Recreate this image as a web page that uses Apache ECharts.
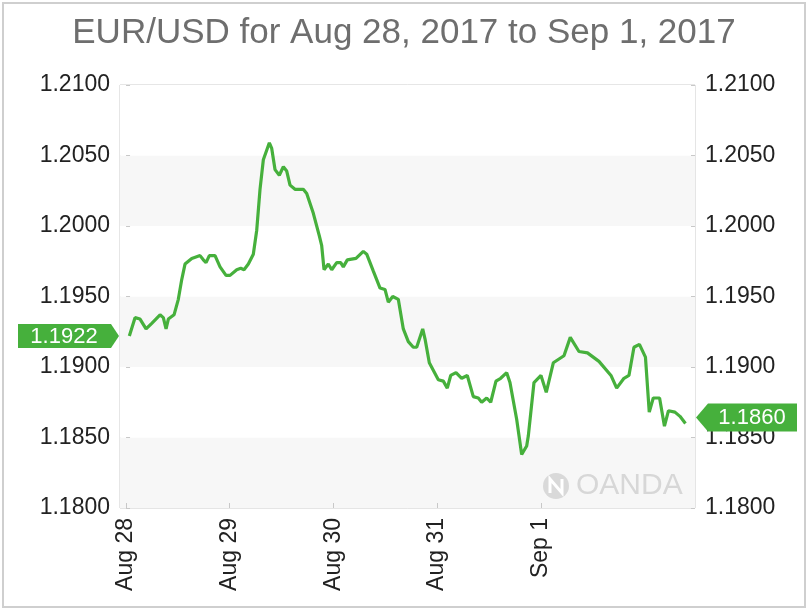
<!DOCTYPE html>
<html>
<head>
<meta charset="utf-8">
<script src="https://cdn.jsdelivr.net/npm/echarts@6/dist/echarts.min.js"></script>
<style>
html,body{margin:0;padding:0;background:#fff;}
#chart{width:808px;height:610px;}
</style>
</head>
<body>
<div id="chart"></div>
<script>
// Hours since Aug 28, 2017 00:00
const hours = [0.76,2.08,3.24,4.63,5.95,7.87,8.63,9.26,9.79,11.11,12.10,12.89,13.65,15.21,17.13,17.89,18.52,19.28,20.60,21.76,23.14,24.07,25.62,26.55,27.31,28.31,29.46,30.25,31.01,31.78,33.17,33.72,34.48,35.48,36.41,37.19,37.96,39.11,41.03,41.82,43.35,44.74,45.29,45.83,46.82,47.61,48.76,49.69,50.29,51.22,53.23,54.92,55.71,57.24,58.02,58.79,59.94,60.71,61.73,63.02,64.18,65.34,66.49,67.28,68.67,69.20,70.20,72.28,73.44,74.36,75.15,76.38,77.69,78.99,80.38,81.54,82.32,83.48,84.41,85.63,86.72,88.11,88.87,90.42,91.58,92.74,93.11,94.43,96.05,97.27,98.90,101.37,102.83,104.84,106.81,109.47,112.25,113.57,115.26,116.41,117.57,118.84,120.23,121.11,122.04,123.50,124.63,125.56,127.06,128.22,129.49];
const rates = [1.1922,1.1935,1.1934,1.1927,1.1931,1.1937,1.1935,1.1927,1.1934,1.1937,1.1948,1.1962,1.1973,1.1977,1.1979,1.1976,1.1974,1.1979,1.1979,1.1971,1.1965,1.1965,1.1969,1.1970,1.1969,1.1973,1.1980,1.1997,1.2026,1.2047,1.2059,1.2055,1.2040,1.2036,1.2042,1.2039,1.2029,1.2026,1.2026,1.2023,1.2009,1.1993,1.1986,1.1969,1.1973,1.1969,1.1974,1.1974,1.1971,1.1976,1.1977,1.1982,1.1980,1.1968,1.1962,1.1956,1.1955,1.1946,1.1950,1.1948,1.1927,1.1918,1.1914,1.1914,1.1927,1.1920,1.1903,1.1891,1.1890,1.1885,1.1894,1.1896,1.1892,1.1894,1.1879,1.1878,1.1875,1.1878,1.1875,1.1890,1.1892,1.1896,1.1889,1.1863,1.1838,1.1844,1.1851,1.1889,1.1894,1.1882,1.1903,1.1908,1.1921,1.1911,1.1910,1.1904,1.1894,1.1885,1.1892,1.1894,1.1914,1.1916,1.1907,1.1868,1.1878,1.1878,1.1858,1.1869,1.1868,1.1865,1.1860];
const dayTicks = [0, 24, 48, 72, 96];
const dayLabels = ['Aug 28', 'Aug 29', 'Aug 30', 'Aug 31', 'Sep 1'];
const yMin = 1.1800, yMax = 1.2100, yStep = 0.0050;
const xMin = -1.4, xMax = 131.7;
const titleText = 'EUR/USD for Aug 28, 2017 to Sep 1, 2017';

const FONT = '"Liberation Sans", Arial, Helvetica, sans-serif';
const GREEN = '#46b03c';

const chart = echarts.init(document.getElementById('chart'));
const yAxisCommon = {
  type: 'value', min: yMin, max: yMax, interval: yStep,
  axisLine: { show: false },
  axisTick: { show: true, inside: true, length: 4, lineStyle: { color: '#c8c8c8' } },
  splitLine: { show: false },
  axisLabel: { color: '#222', fontSize: 23, fontFamily: FONT, margin: 10, formatter: v => v.toFixed(4) }
};
chart.setOption({
  animation: false,
  backgroundColor: '#fff',
  title: { text: titleText, left: 'center', top: 11,
    textStyle: { color: '#6e6e6e', fontSize: 35, fontWeight: 'normal', fontFamily: FONT } },
  grid: { left: 120, right: 113, top: 85, bottom: 102, show: true, borderColor: '#cccccc', borderWidth: 1, backgroundColor: 'transparent' },
  xAxis: {
    type: 'value', min: xMin, max: xMax,
    axisLine: { show: false },
    splitLine: { show: false },
    axisTick: { show: true, inside: true, length: 5, customValues: dayTicks, lineStyle: { color: '#c8c8c8' } },
    axisLabel: { customValues: dayTicks, rotate: 90, margin: 10, color: '#222', fontSize: 23, fontFamily: FONT,
      formatter: v => dayLabels[dayTicks.indexOf(v)] || '' }
  },
  yAxis: [
    Object.assign({}, yAxisCommon, { position: 'left',
      splitArea: { show: true, areaStyle: { color: ['#f7f7f7', '#ffffff'] } } }),
    Object.assign({}, yAxisCommon, { position: 'right', splitArea: { show: false } })
  ],
  series: [{
    type: 'line', xAxisIndex: 0, yAxisIndex: 0,
    data: hours.map((h, i) => [h, rates[i]]),
    showSymbol: false, symbol: 'none',
    lineStyle: { color: GREEN, width: 3.2 },
    z: 5
  }]
});

function tag(points, text, cx, cy) {
  return [
    { type: 'polygon', shape: { points }, style: { fill: GREEN }, z: 100 },
    { type: 'text', x: cx, y: cy, z: 101,
      style: { text, fill: '#fff', font: '22px ' + FONT, align: 'center', verticalAlign: 'middle' } }
  ];
}
const gl = chart.convertToPixel({ gridIndex: 0 }, [xMin, yMin]);
const gr = chart.convertToPixel({ gridIndex: 0 }, [xMax, yMax]);
const yFirst = chart.convertToPixel({ yAxisIndex: 0 }, rates[0]);
const yLast = chart.convertToPixel({ yAxisIndex: 0 }, rates[rates.length - 1]) - 6;
const h = 12;
const L = gl[0], R = gr[0];
const leftTag = tag([[L - 102, yFirst - h], [L - 9, yFirst - h], [L - 1, yFirst], [L - 9, yFirst + h], [L - 102, yFirst + h]],
  rates[0].toFixed(4), L - 56, yFirst + 1);
const rightTag = tag([[R + 1, yLast], [R + 13, yLast - h - 2], [R + 102, yLast - h - 2], [R + 102, yLast + h + 2], [R + 13, yLast + h + 2]],
  rates[rates.length - 1].toFixed(4), R + 57, yLast + 1);

// OANDA watermark
const wm = [
  { type: 'circle', shape: { cx: R - 139, cy: gl[1] - 22, r: 13 }, style: { fill: '#d9d9d9' }, z: 3 },
  { type: 'polyline', shape: { points: [[R - 145, gl[1] - 15], [R - 145, gl[1] - 29], [R - 133, gl[1] - 15], [R - 133, gl[1] - 29]] },
    style: { stroke: '#fff', lineWidth: 3, fill: null }, z: 4 },
  { type: 'text', x: R - 119, y: gl[1] - 22, z: 3,
    style: { text: 'OANDA', fill: '#d7d7d7', font: '30px ' + FONT, verticalAlign: 'middle', align: 'left' } }
];
// outer frame
const frame = [{ type: 'rect', shape: { x: 3, y: 3, width: 802, height: 604 }, style: { fill: null, stroke: '#cfcfcf', lineWidth: 2 }, z: 0 }];

chart.setOption({ graphic: leftTag.concat(rightTag, wm, frame) });
</script>
</body>
</html>
